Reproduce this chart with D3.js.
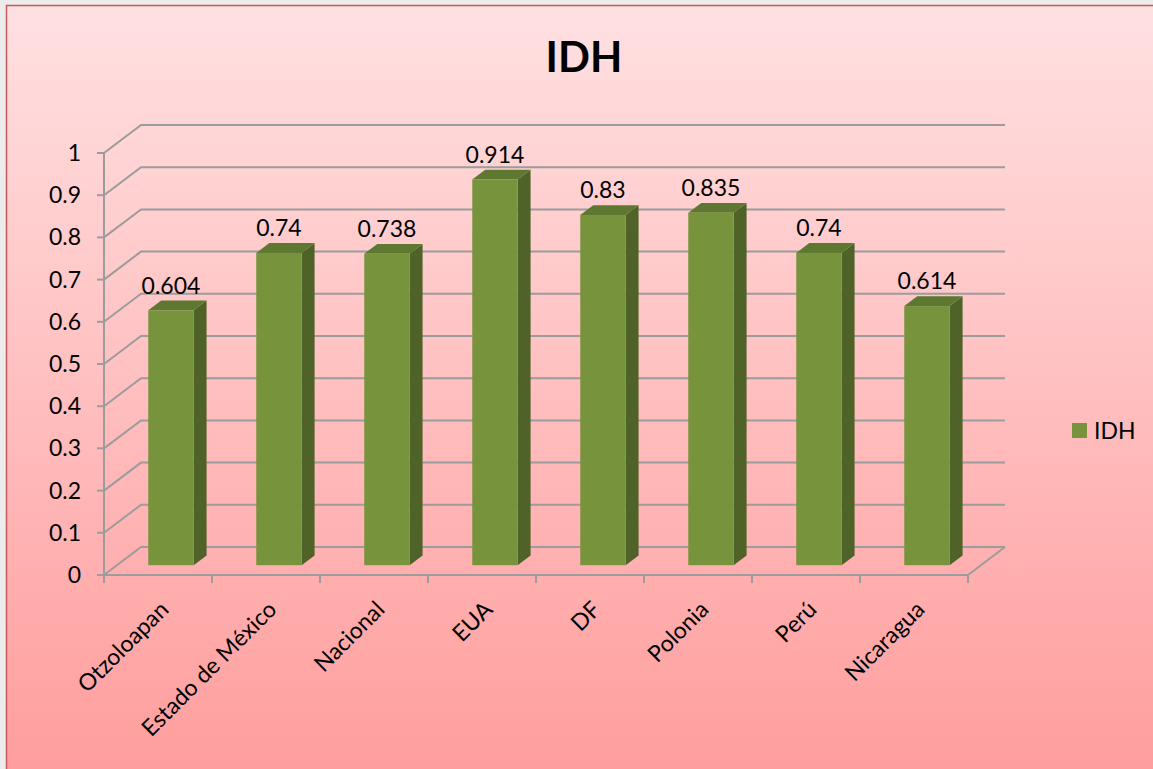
<!DOCTYPE html>
<html>
<head>
<meta charset="utf-8">
<script src="https://cdn.jsdelivr.net/npm/d3@7"></script>
<style>
  body { margin: 0; background: #ececec; }
  text { font-family: Lato, "Open Sans", sans-serif; fill: #000; }
</style>
</head>
<body>
<script>
//Data
var categories = ["Otzoloapan", "Estado de México", "Nacional", "EUA", "DF", "Polonia", "Perú", "Nicaragua"];
var idh = [0.604, 0.74, 0.738, 0.914, 0.83, 0.835, 0.74, 0.614];
var yTicks = [0, 0.1, 0.2, 0.3, 0.4, 0.5, 0.6, 0.7, 0.8, 0.9, 1];
var seriesName = "IDH";

//Width and height
var w = 1153;
var h = 769;

//3D depth of the floor / walls
var depthX = 37;
var depthY = 28;
var barFront = 0.35;   //bar sits between these depth fractions
var barBack = 0.7;

var svg = d3.select("body")
            .append("svg")
            .attr("width", w)
            .attr("height", h);

//Background gradient
var defs = svg.append("defs");
var grad = defs.append("linearGradient")
               .attr("id", "bg")
               .attr("x1", 0).attr("y1", 0)
               .attr("x2", 0).attr("y2", 1);
grad.append("stop").attr("offset", "0%").attr("stop-color", "#ffe1e2");
grad.append("stop").attr("offset", "100%").attr("stop-color", "#ff9d9d");

svg.append("rect")
   .attr("x", 6.5)
   .attr("y", 5.5)
   .attr("width", w)
   .attr("height", h)
   .attr("fill", "url(#bg)")
   .attr("stroke", "#c9585a")
   .attr("stroke-width", 1.5);

//Scales
var x = d3.scaleBand()
          .domain(categories)
          .range([104, 968]);

var y = d3.scaleLinear()
          .domain([0, 1])
          .range([575, 153]);

var x0 = x.range()[0];
var x1 = x.range()[1];

//Gridlines: diagonal on the left wall, then along the back wall
var grid = svg.append("g")
              .attr("stroke", "#9c9c9c")
              .attr("stroke-width", 2)
              .attr("fill", "none");

grid.selectAll("path")
    .data(yTicks)
    .enter()
    .append("path")
    .attr("d", function(d) {
      return "M" + x0 + "," + y(d) +
             "L" + (x0 + depthX) + "," + (y(d) - depthY) +
             "L" + (x1 + depthX) + "," + (y(d) - depthY);
    });

//Floor front edge and right side
grid.append("path")
    .attr("d", "M" + x0 + "," + y(0) + "L" + x1 + "," + y(0) +
               "L" + (x1 + depthX) + "," + (y(0) - depthY));

//Vertical axis line
grid.append("line")
    .attr("x1", x0).attr("x2", x0)
    .attr("y1", y(0)).attr("y2", y(1));

//Y ticks
grid.selectAll("line.ytick")
    .data(yTicks)
    .enter()
    .append("line")
    .attr("class", "ytick")
    .attr("x1", x0 - 7).attr("x2", x0)
    .attr("y1", function(d) { return y(d); })
    .attr("y2", function(d) { return y(d); });

//X ticks at the category edges
var edges = categories.map(function(c) { return x(c); }).concat([x1]);
grid.selectAll("line.xtick")
    .data(edges)
    .enter()
    .append("line")
    .attr("class", "xtick")
    .attr("x1", function(d) { return d; })
    .attr("x2", function(d) { return d; })
    .attr("y1", y(0)).attr("y2", y(0) + 8);

//Y tick labels
svg.selectAll("text.ylabel")
   .data(yTicks)
   .enter()
   .append("text")
   .attr("class", "ylabel")
   .attr("x", 81)
   .attr("y", function(d) { return y(d) + 8; })
   .attr("text-anchor", "end")
   .attr("font-size", 23)
   .text(function(d) { return d; });

//Bars (front, side, top)
var barW = x.bandwidth() * 0.42;
var fx = depthX * barFront, fy = depthY * barFront;
var bx = depthX * barBack, by = depthY * barBack;

var bars = svg.selectAll("g.bar")
              .data(idh)
              .enter()
              .append("g")
              .attr("class", "bar");

function left(d, i) { return x(categories[i]) + (x.bandwidth() - barW) / 2; }

bars.append("path")
    .attr("fill", "#4f6228")
    .attr("d", function(d, i) {
      var l = left(d, i) + barW;
      return "M" + (l + fx) + "," + (y(0) - fy) +
             "L" + (l + bx) + "," + (y(0) - by) +
             "L" + (l + bx) + "," + (y(d) - by) +
             "L" + (l + fx) + "," + (y(d) - fy) + "Z";
    });

bars.append("path")
    .attr("fill", "#5f7831")
    .attr("d", function(d, i) {
      var l = left(d, i);
      return "M" + (l + fx) + "," + (y(d) - fy) +
             "L" + (l + bx) + "," + (y(d) - by) +
             "L" + (l + barW + bx) + "," + (y(d) - by) +
             "L" + (l + barW + fx) + "," + (y(d) - fy) + "Z";
    });

bars.append("rect")
    .attr("fill", "#77933c")
    .attr("x", function(d, i) { return left(d, i) + fx; })
    .attr("y", function(d) { return y(d) - fy; })
    .attr("width", barW)
    .attr("height", function(d) { return y(0) - y(d); });

//Value labels
svg.selectAll("text.value")
   .data(idh)
   .enter()
   .append("text")
   .attr("class", "value")
   .attr("x", function(d, i) { return left(d, i) + fx + barW / 2; })
   .attr("y", function(d) { return y(d) - by - 7; })
   .attr("text-anchor", "middle")
   .attr("font-size", 23)
   .text(function(d) { return d; });

//Category labels, rotated
svg.selectAll("text.cat")
   .data(categories)
   .enter()
   .append("text")
   .attr("class", "cat")
   .attr("text-anchor", "end")
   .attr("font-size", 23)
   .attr("transform", function(d) {
     var cx = x(d) + x.bandwidth() / 2 + 12;
     return "translate(" + cx + ",611) rotate(-45)";
   })
   .text(function(d) { return d; });

//Title
svg.append("text")
   .attr("x", 584)
   .attr("y", 72)
   .attr("text-anchor", "middle")
   .attr("font-size", 42)
   .attr("font-weight", "bold")
   .text(seriesName);

//Legend
svg.append("rect")
   .attr("x", 1072)
   .attr("y", 423)
   .attr("width", 15)
   .attr("height", 15)
   .attr("fill", "#77933c");

svg.append("text")
   .attr("x", 1094)
   .attr("y", 439)
   .attr("font-size", 23)
   .text(seriesName);
</script>
</body>
</html>
